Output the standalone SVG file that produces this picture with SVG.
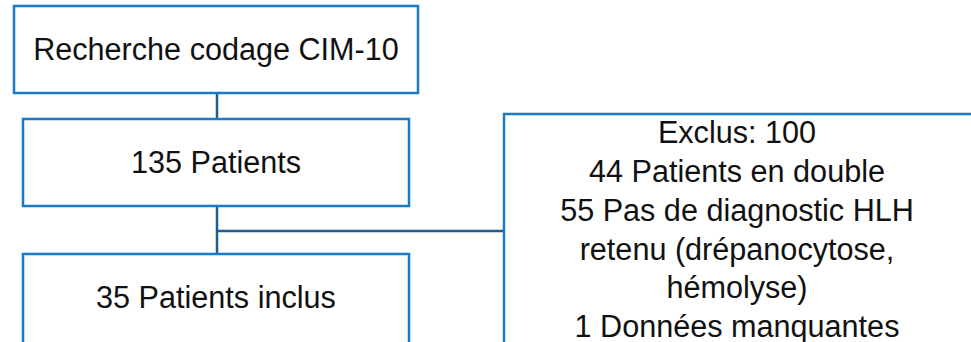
<svg xmlns="http://www.w3.org/2000/svg" width="971" height="342" viewBox="0 0 971 342">
<style>
.box{fill:#fff;stroke:#1b7ac6;stroke-width:2.5}
.lbl{font-family:"Liberation Sans",Arial,sans-serif;font-size:30.6px;fill:#111;text-anchor:middle}
.conn{fill:none;stroke:#1c5f8c;stroke-width:2.5}
</style>
<rect width="971" height="342" fill="#fff"/>
<g id="connectors">
<line class="conn" x1="217" y1="93" x2="217" y2="119"/>
<line class="conn" x1="217" y1="206" x2="217" y2="254"/>
<line class="conn" x1="217" y1="231" x2="504" y2="231"/>
</g>
<g id="n1"><rect class="box" x="14" y="6" width="404" height="87"/><text class="lbl" x="216" y="60">Recherche codage CIM-10</text></g>
<g id="n2"><rect class="box" x="23" y="119" width="386" height="87"/><text class="lbl" x="216" y="173">135 Patients</text></g>
<g id="n3"><rect class="box" x="23" y="254" width="386" height="100"/><text class="lbl" x="216" y="308">35 Patients inclus</text></g>
<g id="n4"><rect class="box" x="504" y="114" width="480" height="240"/>
<text class="lbl" x="737"><tspan x="737" y="143">Exclus: 100</tspan><tspan x="737" y="182">44 Patients en double</tspan><tspan x="737" y="221">55 Pas de diagnostic HLH</tspan><tspan x="737" y="260">retenu (drépanocytose,</tspan><tspan x="737" y="298">hémolyse)</tspan><tspan x="737" y="337">1 Données manquantes</tspan></text></g>
</svg>
